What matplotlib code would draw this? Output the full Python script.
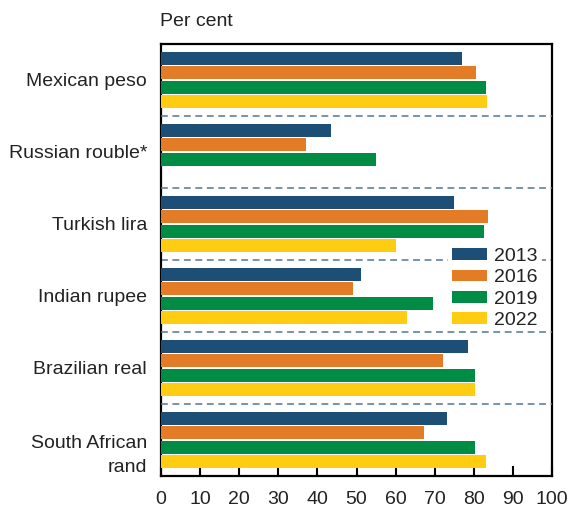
import matplotlib.pyplot as plt
import matplotlib.transforms as mtransforms
import numpy as np

# 字体设置
plt.rcParams['font.family'] = ['Liberation Sans', 'DejaVu Sans']

currencies = ['Mexican peso', 'Russian rouble*', 'Turkish lira', 'Indian rupee',
              'Brazilian real', 'South African\nrand']
years = ['2013', '2016', '2019', '2022']
v2013 = [77.0, 43.6, 74.9, 51.2, 78.6, 73.1]
v2016 = [80.5, 37.2, 83.6, 49.0, 72.2, 67.3]
v2019 = [83.1, 55.1, 82.6, 69.6, 80.3, 80.3]
v2022 = [83.3, np.nan, 60.1, 62.9, 80.3, 83.1]
colors = ['#1d4f76', '#e37b27', '#008c45', '#fecd11']

text_col = '#222222'

fig = plt.figure(figsize=(5.71, 5.07), dpi=100)
ax = fig.add_axes([161 / 571, 1 - 476 / 507, 391 / 571, 432 / 507])

pos = np.arange(len(currencies))
offsets = [-0.3, -0.1, 0.1, 0.3]
for vals, off, c, yr in zip([v2013, v2016, v2019, v2022], offsets, colors, years):
    ax.barh(pos + off, vals, height=0.178, color=c, label=yr, zorder=3)

# 分隔虚线（图例只盖住土耳其/印度之间那条）
for i, b in enumerate(pos[:-1] + 0.5):
    z = 2 if i == 2 else 6
    ax.axhline(b, color='#557595', lw=1.1, ls=(0, (4.5, 3)), zorder=z)

ax.set_xlim(0, 100)
ax.set_ylim(len(currencies) - 0.5, -0.5)
ax.set_xticks(range(0, 101, 10))
ax.set_yticks(pos)
# 两行的标签单独画
ax.set_yticklabels(currencies[:-1] + [''])
ax.tick_params(axis='y', length=0, pad=10, labelsize=14, labelcolor=text_col)
ax.tick_params(axis='x', direction='in', length=7.5, width=1.5, pad=11,
               labelsize=14, labelcolor=text_col)
for s in ax.spines.values():
    s.set_linewidth(1.6)
    s.set_color('black')

trans = mtransforms.blended_transform_factory(ax.transAxes, ax.transData)
ax.annotate(currencies[-1], xy=(0, pos[-1]), xycoords=trans,
            xytext=(-10, -23), textcoords='offset points',
            ha='right', va='baseline', fontsize=14, color=text_col,
            linespacing=1.5, multialignment='right')

leg = ax.legend(loc='upper left', bbox_to_anchor=(287 / 391, 1 - (244 - 44) / 432),
                frameon=True, facecolor='white', edgecolor='none', framealpha=1,
                fancybox=False, fontsize=14, handlelength=1.8, handleheight=0.57,
                handletextpad=0.38, labelspacing=0.23, borderpad=0.2,
                borderaxespad=0)
leg.set_zorder(5)
for t in leg.get_texts():
    t.set_color(text_col)

fig.text(160 / 571, 1 - 21.5 / 507, 'Per cent', fontsize=14, color=text_col,
         va='center', ha='left')

fig.savefig('out.png', dpi=100)
